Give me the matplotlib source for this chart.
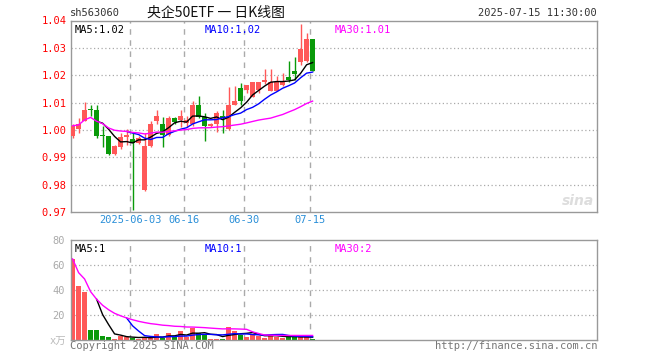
import numpy as np
import pandas as pd
import matplotlib
matplotlib.use('Agg')
import matplotlib.pyplot as plt

# daily K data, 2025-05-19 .. 2025-07-15
dates = ['05-19', '05-20', '05-21', '05-22', '05-23', '05-26', '05-27', '05-28', '05-29', '05-30',
         '06-03', '06-04', '06-05', '06-06', '06-09', '06-10', '06-11', '06-12', '06-13', '06-16',
         '06-17', '06-18', '06-19', '06-20', '06-23', '06-24', '06-25', '06-26', '06-27', '06-30',
         '07-01', '07-02', '07-03', '07-04', '07-07', '07-08', '07-09', '07-10', '07-11', '07-14', '07-15']
opens = [0.9976, 1.0004, 1.0034, 1.0074, 1.0073, 0.9980, 0.9976, 0.9912, 0.9937, 0.9973,
         0.9966, 0.9951, 0.9780, 0.9941, 1.0034, 1.0022, 0.9982, 1.0044, 1.0035, 1.0025,
         1.0022, 1.0092, 1.0049, 1.0015, 1.0022, 1.0051, 1.0004, 1.0092, 1.0155, 1.0147,
         1.0122, 1.0147, 1.0174, 1.0141, 1.0144, 1.0165, 1.0193, 1.0214, 1.0247, 1.0251, 1.0334]
highs = [1.0022, 1.0043, 1.0103, 1.0091, 1.0091, 1.0015, 0.9976, 0.9944, 0.9990, 1.0002,
         0.9994, 0.9976, 0.9990, 1.0034, 1.0073, 1.0049, 1.0051, 1.0049, 1.0073, 1.0051,
         1.0104, 1.0125, 1.0061, 1.0027, 1.0071, 1.0073, 1.0157, 1.0159, 1.0171, 1.0165,
         1.0174, 1.0174, 1.0223, 1.0223, 1.0196, 1.0208, 1.0253, 1.0265, 1.0386, 1.0355, 1.0334]
lows = [0.9969, 0.9990, 1.0031, 1.0051, 0.9971, 0.9939, 0.9909, 0.9909, 0.9931, 0.9945,
        0.9706, 0.9949, 0.9777, 0.9939, 1.0020, 0.9939, 0.9978, 1.0020, 1.0012, 1.0010,
        1.0015, 1.0042, 0.9961, 1.0010, 0.9994, 0.9990, 1.0000, 1.0092, 1.0092, 1.0135,
        1.0120, 1.0135, 1.0169, 1.0141, 1.0141, 1.0162, 1.0177, 1.0184, 1.0239, 1.0247, 1.0214]
closes = [1.0015, 1.0022, 1.0073, 1.0073, 0.9976, 0.9979, 0.9912, 0.9941, 0.9973, 0.9982,
          0.9954, 0.9969, 0.9941, 1.0022, 1.0051, 0.9982, 1.0045, 1.0030, 1.0051, 1.0035,
          1.0092, 1.0047, 1.0015, 1.0022, 1.0061, 1.0042, 1.0092, 1.0104, 1.0104, 1.0165,
          1.0174, 1.0174, 1.0184, 1.0175, 1.0177, 1.0174, 1.0184, 1.0205, 1.0294, 1.0334, 1.0214]
# volume, unit 10k
volumes = [64.8, 42.7, 38.4, 8.0, 8.0, 3.2, 2.4, 0.8, 3.2, 1.9,
           1.3, 0.8, 1.6, 1.6, 4.3, 1.3, 5.6, 1.9, 7.2, 1.9,
           9.0, 5.3, 4.0, 0.8, 0.8, 0.8, 10.4, 7.2, 4.0, 2.4,
           4.0, 3.2, 1.6, 4.0, 2.4, 1.6, 1.9, 1.9, 2.4, 2.4, 0.8]

tick_idx = [10, 19, 29, 40]
tick_labels = ['2025-06-03', '06-16', '06-30', '07-15']
price_ticks = [0.97, 0.98, 0.99, 1.00, 1.01, 1.02, 1.03, 1.04]
vol_ticks = [20, 40, 60, 80]

RED = '#ff5858'
GREEN = '#0a9a0a'
GRID = '#aaaaaa'
EDGE = '#999999'
MONO = ['DejaVu Sans Mono', 'Noto Sans CJK SC']

df = pd.DataFrame({'o': opens, 'h': highs, 'l': lows, 'c': closes, 'v': volumes})
x = np.arange(len(df))
up = df['c'] >= df['o']
cols = np.where(up, RED, GREEN)

ma5 = df['c'].rolling(5).mean()
ma10 = df['c'].rolling(10).mean()
ma30 = df['c'].rolling(30, min_periods=1).mean()
vma5 = df['v'].rolling(5).mean()
vma10 = df['v'].rolling(10).mean()
vma30 = df['v'].rolling(30, min_periods=1).mean()

fig = plt.figure(figsize=(6.6, 3.6), dpi=100)
W, H = 660, 360


def box(l, t, r, b):
    return [l / W, 1 - b / H, (r - l) / W, (b - t) / H]


ax = fig.add_axes(box(70.5, 20.5, 597, 212))
axv = fig.add_axes(box(70.5, 240, 597, 339.5))
xmin, xmax = -0.35, 87.4
vlines_x = [i - 0.4 for i in tick_idx]

# price panel
for y in price_ticks[1:-1]:
    ax.axhline(y, color=GRID, lw=0.9, dashes=(1, 2), zorder=0)
for xv in vlines_x:
    ax.axvline(xv, color=GRID, lw=1, dashes=(4, 4), zorder=0)
ax.vlines(x, df['l'], df['h'], colors=cols, lw=1, zorder=2)
body = np.maximum((df['c'] - df['o']).abs(), 0.0003)
ax.bar(x, body, bottom=np.minimum(df['o'], df['c']), width=0.8, color=cols, lw=0, zorder=3)
ax.plot(x, ma5, color='black', lw=1, zorder=4)
ax.plot(x, ma10, color='#0000ff', lw=1, zorder=4)
ax.plot(x, ma30, color='#ff00ff', lw=1, zorder=4)
ax.set_xlim(xmin, xmax)
ax.set_ylim(0.97, 1.04)
ax.set_yticks(price_ticks)
ax.set_yticklabels(['%.2f' % p for p in price_ticks], color='#ff0000', family=MONO, fontsize=7.5)
ax.set_xticks(vlines_x)
ax.set_xticklabels(tick_labels, color='#2a8fd8', family=MONO, fontsize=7.5)
ax.tick_params(length=0, pad=3)
ax.tick_params(axis='x', pad=2.5)
for s in ax.spines.values():
    s.set_color(EDGE)
    s.set_linewidth(1)
ax.text(0.008, 0.975, 'MA5:1.02', transform=ax.transAxes, color='black', family=MONO,
        fontsize=7.5, va='top')
ax.text((205 - 70.5) / 526.5, 0.975, 'MA10:1.02', transform=ax.transAxes, color='#0000ff',
        family=MONO, fontsize=7.5, va='top')
ax.text((335 - 70.5) / 526.5, 0.975, 'MA30:1.01', transform=ax.transAxes, color='#ff00ff',
        family=MONO, fontsize=7.5, va='top')
ax.text(0.995, 0.02, 'sina', transform=ax.transAxes, color='#dddddd', fontsize=10,
        style='italic', weight='bold', ha='right', va='bottom')

# volume panel
for y in vol_ticks[:-1]:
    axv.axhline(y, color=GRID, lw=0.9, dashes=(1, 2), zorder=0)
for xv in vlines_x:
    axv.axvline(xv, color=GRID, lw=1, dashes=(4, 4), zorder=0)
axv.bar(x, df['v'], width=0.8, color=cols, lw=0, zorder=2)
axv.plot(x, vma5, color='black', lw=1, zorder=4)
axv.plot(x, vma10, color='#0000ff', lw=1, zorder=4)
axv.plot(x, vma30, color='#ff00ff', lw=1, zorder=4)
axv.set_xlim(xmin, xmax)
axv.set_ylim(0, 80)
axv.set_yticks(vol_ticks)
axv.set_yticklabels([str(v) for v in vol_ticks], color='#aaaaaa', family=MONO, fontsize=7.5)
axv.set_xticks([])
axv.tick_params(length=0, pad=4)
for s in axv.spines.values():
    s.set_color(EDGE)
    s.set_linewidth(1)
axv.text(0.008, 0.955, 'MA5:1', transform=axv.transAxes, color='black', family=MONO,
         fontsize=7.5, va='top')
axv.text((205 - 70.5) / 526.5, 0.955, 'MA10:1', transform=axv.transAxes, color='#0000ff',
         family=MONO, fontsize=7.5, va='top')
axv.text((335 - 70.5) / 526.5, 0.955, 'MA30:2', transform=axv.transAxes, color='#ff00ff',
         family=MONO, fontsize=7.5, va='top')

# header and footer
fig.text(70 / W, 1 - 13 / H, 'sh563060', color='#333333', family=MONO, fontsize=7.5, va='center')
fig.text(216 / W, 1 - 13 / H, '央企50ETF 一 日K线图', color='#111111',
         family=['Noto Sans CJK SC', 'DejaVu Sans'], fontsize=10, ha='center', va='center')
fig.text(597 / W, 1 - 13 / H, '2025-07-15 11:30:00', color='#333333', family=MONO,
         fontsize=7.5, ha='right', va='center')
fig.text(66 / W, 1 - 342 / H, 'x万', color='#bbbbbb', family=MONO, fontsize=7.5,
         ha='right', va='center')
fig.text(70 / W, 1 - 346 / H, 'Copyright 2025 SINA.COM', color='#777777', family=MONO,
         fontsize=7.5, va='center')
fig.text(597 / W, 1 - 346 / H, 'http://finance.sina.com.cn', color='#777777', family=MONO,
         fontsize=7.5, ha='right', va='center')

fig.savefig('out.png', dpi=100)
